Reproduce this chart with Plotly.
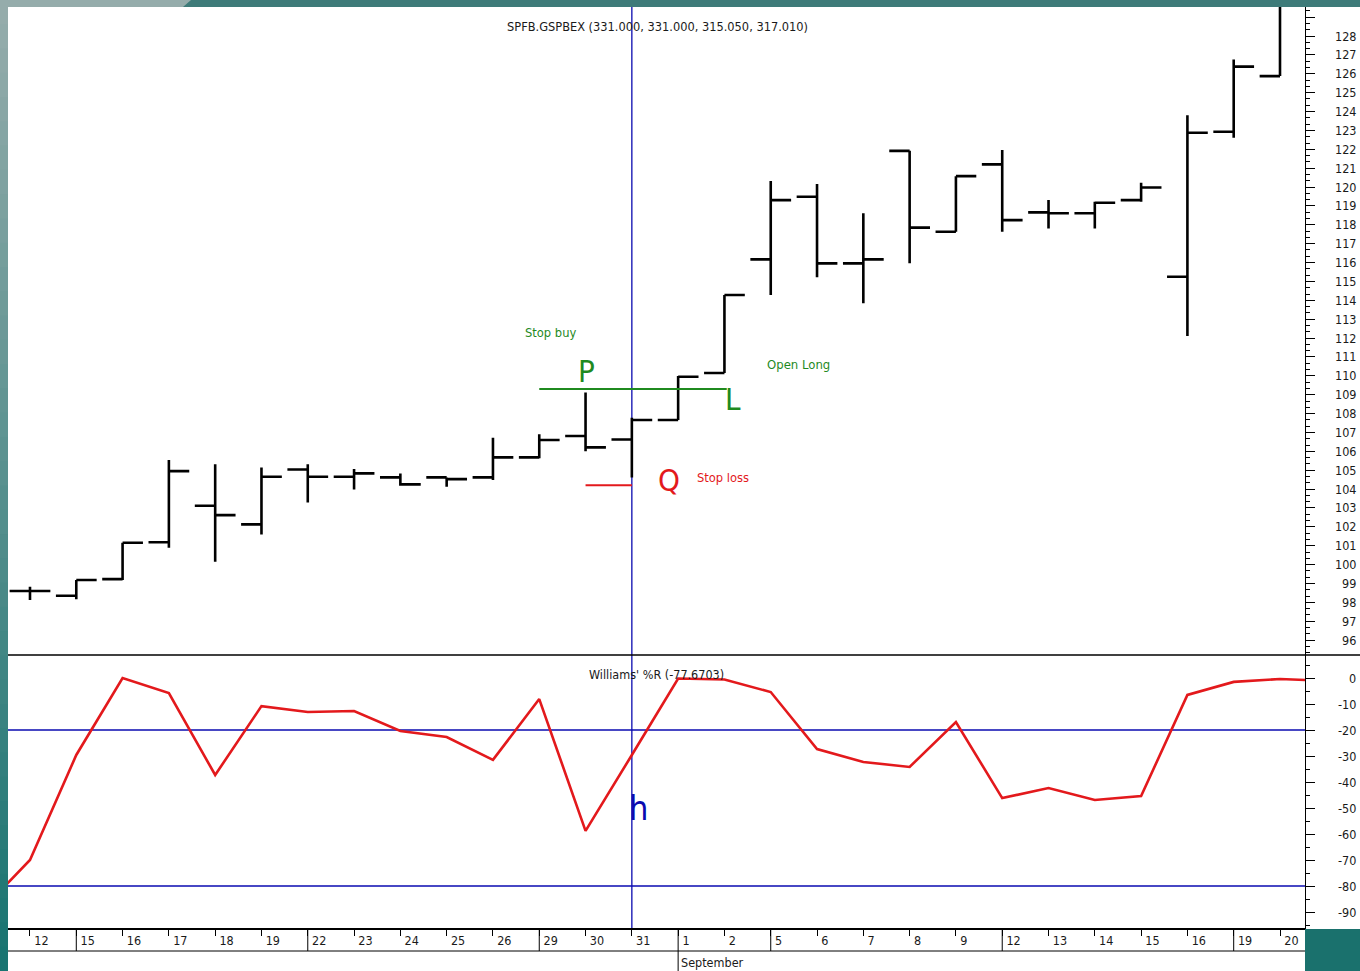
import plotly.graph_objects as go

# ---------------- data ----------------
day_labels = ["12", "15", "16", "17", "18", "19", "22", "23", "24", "25", "26", "29", "30", "31",
              "1", "2", "5", "6", "7", "8", "9", "12", "13", "14", "15", "16", "19", "20"]
week_start_idx = [1, 6, 11, 14, 16, 21, 26]
month_label = "September"
month_start_idx = 14

open_ = [98.6, 98.35, 99.23, 101.18, 103.12, 102.13, 105.04, 104.65, 104.62, 104.62, 104.62, 105.68,
         106.81, 106.63, 107.66, 110.15, 116.17, 119.49, 115.96, 121.92, 117.63, 121.2, 118.66, 118.61,
         119.31, 115.25, 122.93, 125.88]
high = [98.82, 99.18, 101.16, 105.54, 105.32, 105.15, 105.31, 105.06, 104.83, 104.62, 106.72, 106.91,
        109.12, 107.78, 109.99, 114.28, 120.32, 120.16, 118.61, 121.92, 120.58, 121.96, 119.31, 119.22,
        120.23, 123.81, 126.76, 131.0]
low = [98.12, 98.16, 99.18, 100.89, 100.15, 101.6, 103.29, 103.98, 104.18, 104.12, 104.48, 105.63,
       106.01, 104.62, 107.66, 110.15, 114.28, 115.22, 113.84, 115.96, 117.63, 117.63, 117.81, 117.81,
       119.22, 112.11, 122.61, 125.88]
close = [98.6, 99.18, 101.16, 104.95, 102.62, 104.65, 104.65, 104.83, 104.25, 104.53, 105.68, 106.6,
         106.21, 107.66, 109.95, 114.28, 119.31, 115.96, 116.17, 117.85, 120.58, 118.25, 118.61, 119.17,
         119.98, 122.88, 126.38, 130.5]

# Williams %R, one value before the first bar and one after the last bar (clipped by the view)
wr_first_idx = -1
williams = [-88.5, -70.0, -29.6, 0.0, -5.8, -37.3, -10.8, -13.1, -12.7, -20.4, -22.7, -31.5, -8.1,
            -58.8, -29.6, -0.2, -0.6, -5.4, -27.3, -32.3, -34.2, -16.9, -46.2, -42.3, -46.9, -45.4,
            -6.5, -1.5, -0.4, -1.1]

price_ticks = list(range(96, 129))
wr_ticks = list(range(0, -100, -10))
wr_levels = [-20, -80]

title_price = "SPFB.GSPBEX (331.000, 331.000, 315.050, 317.010)"
title_wr = "Williams' %R (-77.6703)"

signal_idx = 13          # Aug 31
stop_buy = 109.3
stop_loss = 104.2

# ---------------- layout geometry ----------------
W, H = 1360, 971
ML, MR, MT, MB = 8, 55, 7, 43
PW, PH = W - ML - MR, H - MT - MB
split = 273 / PH      # boundary between panels (paper y)

def px_x(p):   # pixel x -> paper x
    return (p - ML) / PW

def px_y(p):   # pixel y -> paper y
    return (H - MB - p) / PH

FONT = "Liberation Sans Narrow, DejaVu Sans Condensed, Arial Narrow, sans-serif"
GREEN = "#1f8a1f"
RED = "#e3191c"
BLUE = "#0a0ab0"
TXT = "#1a1a1a"

idx = list(range(len(day_labels)))
wr_x = [wr_first_idx + i for i in range(len(williams))]

fig = go.Figure()
fig.add_trace(go.Ohlc(
    x=idx, open=open_, high=high, low=low, close=close,
    increasing=dict(line=dict(color="black", width=2.6)),
    decreasing=dict(line=dict(color="black", width=2.6)),
    tickwidth=0.44, xaxis="x", yaxis="y", showlegend=False, hoverinfo="skip"))
fig.add_trace(go.Scatter(
    x=wr_x, y=williams, mode="lines", line=dict(color=RED, width=2.6),
    xaxis="x2", yaxis="y2", showlegend=False, hoverinfo="skip"))

xr = [-0.475, 27.54]
fig.update_layout(
    width=W, height=H, margin=dict(l=ML, r=MR, t=MT, b=MB),
    paper_bgcolor="white", plot_bgcolor="white", showlegend=False,
    xaxis=dict(domain=[0, 1], anchor="y", range=xr, showticklabels=False, showgrid=False,
               zeroline=False, showline=False, ticks="", rangeslider=dict(visible=False),
               matches="x2"),
    yaxis=dict(domain=[split, 1], anchor="x", side="right", range=[95.21, 129.54],
               showgrid=False, zeroline=False, showline=True, linecolor="black", linewidth=1,
               ticks="outside", ticklen=9, tickwidth=1, tickcolor="black", dtick=1, tick0=0,
               minor=dict(dtick=1 / 3, ticklen=4, tickcolor="black", ticks="outside"),
               showticklabels=False),
    xaxis2=dict(domain=[0, 1], anchor="y2", range=xr, showgrid=False, zeroline=False,
                showline=True, linecolor="black", linewidth=1.5,
                tickmode="array", tickvals=idx, ticktext=day_labels,
                ticks="outside", ticklen=6, tickcolor="black",
                ticklabelposition="outside right", ticklabelshift=3,
                tickfont=dict(family=FONT, size=12.5, color=TXT)),
    yaxis2=dict(domain=[0, split], anchor="x2", side="right", range=[-96.15, 8.85],
                showgrid=False, zeroline=False, showline=True, linecolor="black", linewidth=1,
                ticks="outside", ticklen=9, tickwidth=1, tickcolor="black", dtick=10, tick0=0,
                minor=dict(dtick=5, ticklen=4, tickcolor="black", ticks="outside"),
                showticklabels=False),
)

shapes = []
# left gradient strip
def mix(c1, c2, t):
    a = [int(c1[i:i + 2], 16) for i in (1, 3, 5)]
    b = [int(c2[i:i + 2], 16) for i in (1, 3, 5)]
    return "#%02x%02x%02x" % tuple(round(a[k] + (b[k] - a[k]) * t) for k in range(3))

n = 40
for k in range(n):
    y0p = k * H / n
    y1p = (k + 1) * H / n + 1
    shapes.append(dict(type="rect", xref="paper", yref="paper", x0=px_x(0), x1=px_x(ML),
                       y0=px_y(y1p), y1=px_y(y0p), line=dict(width=0),
                       fillcolor=mix("#97adac", "#177370", (k + 0.5) / n), layer="above"))
# top band
shapes.append(dict(type="rect", xref="paper", yref="paper", x0=px_x(0), x1=px_x(W),
                   y0=px_y(MT), y1=px_y(0), line=dict(width=0), fillcolor="#3e7b79"))
shapes.append(dict(type="path", xref="paper", yref="paper",
                   path="M %f,%f L %f,%f L %f,%f L %f,%f Z" % (
                       px_x(0), px_y(0), px_x(191), px_y(0), px_x(183), px_y(MT), px_x(0), px_y(MT)),
                   line=dict(width=0), fillcolor="#95acab"))
# bottom-right teal block
shapes.append(dict(type="rect", xref="paper", yref="paper", x0=px_x(1305), x1=px_x(W + 2),
                   y0=px_y(H + 2), y1=px_y(929), line=dict(width=0), fillcolor="#1a716d"))
# panel separator
shapes.append(dict(type="line", xref="paper", yref="paper", x0=0, x1=px_x(W), y0=split, y1=split,
                   line=dict(color="black", width=1.5)))
# bottom strip line
shapes.append(dict(type="line", xref="paper", yref="paper", x0=0, x1=1, y0=px_y(951), y1=px_y(951),
                   line=dict(color="black", width=1)))
# week separators
for i in week_start_idx:
    shapes.append(dict(type="line", xref="x2", yref="paper", x0=i, x1=i, y0=0, y1=px_y(951),
                       line=dict(color="black", width=1)))
shapes.append(dict(type="line", xref="x2", yref="paper", x0=month_start_idx, x1=month_start_idx,
                   y0=px_y(951), y1=px_y(H), line=dict(color="black", width=1)))
# signal vertical and %R levels
shapes.append(dict(type="line", xref="x2", yref="paper", x0=signal_idx, x1=signal_idx, y0=0, y1=1,
                   line=dict(color=BLUE, width=1.3), layer="below"))
for lv in wr_levels:
    shapes.append(dict(type="line", xref="paper", yref="y2", x0=0, x1=1, y0=lv, y1=lv,
                       line=dict(color=BLUE, width=1.3), layer="below"))
# stop buy / stop loss lines
shapes.append(dict(type="line", xref="x", yref="y", x0=signal_idx - 2, x1=signal_idx + 2.05,
                   y0=stop_buy, y1=stop_buy, line=dict(color=GREEN, width=2)))
shapes.append(dict(type="line", xref="x", yref="y", x0=signal_idx - 1, x1=signal_idx,
                   y0=stop_loss, y1=stop_loss, line=dict(color=RED, width=2)))
fig.update_layout(shapes=shapes)

ann = []
for v in price_ticks:
    ann.append(dict(xref="paper", yref="y", x=px_x(1358), y=v, text=str(v), showarrow=False,
                    xanchor="right", yanchor="middle", font=dict(family=FONT, size=12.5, color=TXT)))
for v in wr_ticks:
    ann.append(dict(xref="paper", yref="y2", x=px_x(1358), y=v, text=str(v), showarrow=False,
                    xanchor="right", yanchor="middle", font=dict(family=FONT, size=12.5, color=TXT)))
ann.append(dict(xref="x2", yref="paper", x=month_start_idx, y=px_y(962), text=month_label,
                showarrow=False, xanchor="left", yanchor="middle", xshift=1,
                font=dict(family=FONT, size=12.5, color=TXT)))
ann.append(dict(xref="paper", yref="paper", x=px_x(657), y=px_y(26), text=title_price,
                showarrow=False, xanchor="center", yanchor="middle",
                font=dict(family=FONT, size=12.7, color=TXT)))
ann.append(dict(xref="paper", yref="paper", x=px_x(656), y=px_y(674), text=title_wr,
                showarrow=False, xanchor="center", yanchor="middle",
                font=dict(family=FONT, size=12.5, color=TXT)))
# signal annotations
ann.append(dict(xref="x", yref="y", x=signal_idx - 1.75, y=stop_buy + 2.97, text="Stop buy",
                showarrow=False, font=dict(family=FONT, size=12.8, color=GREEN)))
ann.append(dict(xref="x", yref="y", x=signal_idx - 0.97, y=stop_buy + 0.95, text="P",
                showarrow=False, font=dict(family=FONT, size=31, color=GREEN)))
ann.append(dict(xref="x", yref="y", x=signal_idx + 2.18, y=stop_buy - 0.53, text="L",
                showarrow=False, font=dict(family=FONT, size=31, color=GREEN)))
ann.append(dict(xref="x", yref="y", x=signal_idx + 3.59, y=stop_buy + 1.32, text="Open Long",
                showarrow=False, font=dict(family=FONT, size=13, color=GREEN)))
ann.append(dict(xref="x", yref="y", x=signal_idx + 0.8, y=stop_loss + 0.28, text="Q",
                showarrow=False, font=dict(family=FONT, size=31, color=RED)))
ann.append(dict(xref="x", yref="y", x=signal_idx + 1.97, y=stop_loss + 0.44, text="Stop loss",
                showarrow=False, font=dict(family=FONT, size=12.8, color=RED)))
ann.append(dict(xref="x2", yref="y2", x=signal_idx + 0.15, y=-50, text="h",
                showarrow=False, font=dict(family=FONT, size=34, color=BLUE)))
fig.update_layout(annotations=ann)

fig.write_html("out.html", config={"displayModeBar": False},
               post_script="document.body.style.margin='0';document.body.style.overflow='hidden';")
